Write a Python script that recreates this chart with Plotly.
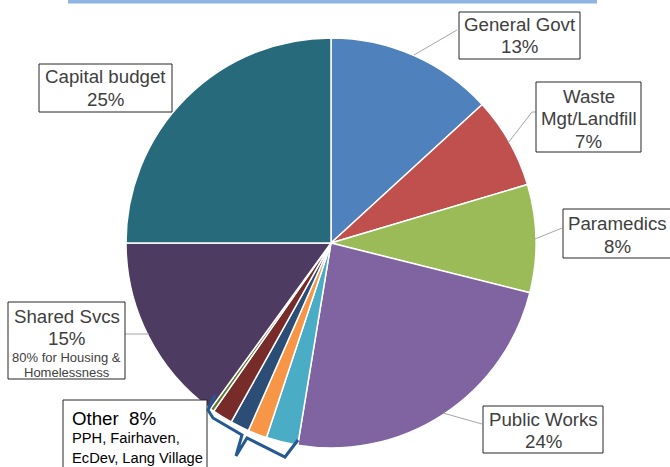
import plotly.graph_objects as go

W, H = 670, 467

labels = ["General Govt", "Waste Mgt/Landfill", "Paramedics", "Public Works",
          "PPH", "Fairhaven", "EcDev", "Lang Village", "Other misc",
          "Shared Svcs", "Capital budget"]
values = [13.2, 7.2, 8.5, 23.7, 2.5, 1.5, 1.5, 1.6, 0.3, 15.0, 25.0]
colors = ["#4f81bd", "#c0504d", "#9bbb59", "#8064a2", "#4bacc6", "#f79646",
          "#2c4d75", "#772c2a", "#5f7530", "#4d3b62", "#276a7c"]


def px(x, y):
    return x / W, 1 - y / H


cx, cy, r = 331, 243, 205
x0, y0 = px(cx - r, cy + r)
x1, y1 = px(cx + r, cy - r)

fig = go.Figure(go.Pie(
    labels=labels, values=values, sort=False, direction="clockwise", rotation=0,
    marker=dict(colors=colors, line=dict(color="white", width=1.5)),
    textinfo="none", hoverinfo="label+percent", showlegend=False,
    domain=dict(x=[x0, x1], y=[y0, y1]),
))

shapes = []
annotations = []

# top bar
bx0, by0 = px(68, 0)
bx1, by1 = px(597, 3.5)
shapes.append(dict(type="rect", xref="paper", yref="paper", x0=bx0, x1=bx1, y0=by1, y1=by0 + 0.01,
                   fillcolor="#8db4e2", line=dict(width=0), layer="above"))


def box(xa, ya, xb, yb):
    a, b = px(xa, ya)
    c, d = px(xb, yb)
    shapes.append(dict(type="rect", xref="paper", yref="paper", x0=a, x1=c, y0=d, y1=b,
                       fillcolor="white", line=dict(color="#262626", width=1), layer="above"))


def leader(pts, color="#a6a6a6", width=1):
    path = ""
    for i, (x, y) in enumerate(pts):
        a, b = px(x, y)
        path += ("M" if i == 0 else "L") + f"{a},{b} "
    shapes.append(dict(type="path", xref="paper", yref="paper", path=path,
                       line=dict(color=color, width=width), layer="above"))


def text(x, y, t, size=18.7, color="#404040", anchor="center"):
    a, b = px(x, y)
    annotations.append(dict(x=a, y=b, xref="paper", yref="paper", text=t, showarrow=False,
                            xanchor=anchor, yanchor="middle", align=anchor,
                            font=dict(family="Liberation Sans, Arial", size=size, color=color)))


# leader lines
leader([(414, 55), (457, 30)])
leader([(508, 143), (532, 112), (536, 112)])
leader([(535, 239), (562, 228)])
leader([(443, 413), (482, 424)])
leader([(125, 334), (149, 334)])

# boxes
box(459, 12, 580, 59)
box(536, 82, 641, 152)
box(563, 209, 690, 258)
box(483, 406, 603, 453)
box(39, 64, 172, 112)
box(8, 302, 125, 379)
box(63, 400, 207, 480)

# texts
text(519.5, 25, "General Govt")
text(519.5, 47, "13%")
text(588.5, 96, "Waste")
text(588.5, 118, "Mgt/Landfill")
text(588.5, 141, "7%")
text(617, 223, "Paramedics")
text(617, 246, "8%")
text(543, 419, "Public Works")
text(543, 441, "24%")
text(105.5, 76, "Capital budget")
text(105.5, 99, "25%")
text(66.5, 316, "Shared Svcs")
text(66.5, 338, "15%")
text(66.5, 357, "80% for Housing &", size=13)
text(66.5, 372, "Homelessness", size=13)
text(70, 418, "Other  8%", size=18.7, color="#000000", anchor="left")
text(70, 438, "PPH, Fairhaven,", size=14.7, color="#000000", anchor="left")
text(70, 458, "EcDev, Lang Village", size=14.7, color="#000000", anchor="left")

# bracket around the "Other" slices
leader([(215, 395), (208, 410), (213, 418), (242, 435), (236, 456), (247, 438),
        (285, 457), (298, 440)], color="#245a8f", width=3)

fig.update_layout(
    width=W, height=H, margin=dict(l=0, r=0, t=0, b=0),
    paper_bgcolor="white", plot_bgcolor="white",
    shapes=shapes, annotations=annotations,
)

fig.write_html("out.html", config={"displayModeBar": False},
               post_script="document.body.style.margin='0';document.body.style.overflow='hidden';")
